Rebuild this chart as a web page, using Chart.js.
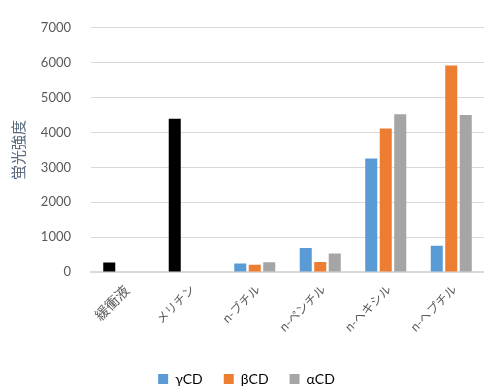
<!DOCTYPE html>
<html>
<head>
<meta charset="utf-8">
<script src="https://cdn.jsdelivr.net/npm/chart.js@4/dist/chart.umd.min.js"></script>
<style>
html,body{margin:0;padding:0;background:#fff;}
#wrap{width:484px;height:386px;}
</style>
</head>
<body>
<div id="wrap"><canvas id="c" width="484" height="386"></canvas></div>
<script>
const categories = ['緩衝液', 'メリチン', 'n-ブチル', 'n-ペンチル', 'n-ヘキシル', 'n-ヘプチル'];
const gammaCD = [270, 4390, 245, 690, 3250, 750];
const betaCD = [null, null, 207, 290, 4110, 5920];
const alphaCD = [null, null, 280, 530, 4520, 4500];
const yTicks = [0, 1000, 2000, 3000, 4000, 5000, 6000, 7000];
const seriesNames = ['γCD', 'βCD', 'αCD'];

const gammaColors = ['#000000', '#000000', '#5B9BD5', '#5B9BD5', '#5B9BD5', '#5B9BD5'];
const FONT = 'Lato, "Noto Sans CJK JP", sans-serif';
const JP = '"Noto Sans CJK JP", sans-serif';

new Chart(document.getElementById('c'), {
  type: 'bar',
  data: {
    labels: categories,
    datasets: [
      { label: seriesNames[0], data: gammaCD, backgroundColor: gammaColors },
      { label: seriesNames[1], data: betaCD, backgroundColor: '#ED7D31' },
      { label: seriesNames[2], data: alphaCD, backgroundColor: '#A5A5A5' }
    ]
  },
  options: {
    responsive: false,
    animation: false,
    layout: { padding: { top: 8, left: 9, right: 0, bottom: 0 } },
    datasets: { bar: { categoryPercentage: 0.664, barPercentage: 0.83 } },
    plugins: {
      legend: {
        position: 'bottom',
        maxHeight: 35,
        labels: {
          generateLabels: (chart) => seriesNames.map((n, i) => ({
            text: n,
            fillStyle: ['#5B9BD5', '#ED7D31', '#A5A5A5'][i],
            strokeStyle: 'rgba(0,0,0,0)',
            lineWidth: 0,
            datasetIndex: i
          })),
          boxWidth: 10, boxHeight: 10, padding: 21,
          color: '#595959',
          font: { family: FONT, size: 14 }
        }
      },
      tooltip: { enabled: false }
    },
    scales: {
      x: {
        grid: { display: false, drawTicks: false },
        border: { display: true, color: '#D9D9D9', width: 2 },
        ticks: {
          maxRotation: 45, minRotation: 45,
          color: '#595959', padding: 10,
          labelOffset: (ctx) => ctx.index === 0 ? 6 : 3,
          font: (ctx) => ({ family: JP, size: ctx.index === 0 ? 14 : 12 })
        },
        afterFit: (s) => { s.height = 79; }
      },
      y: {
        min: 0, max: 7000,
        afterBuildTicks: (s) => { s.ticks = yTicks.map(v => ({ value: v })); },
        grid: { color: '#D9D9D9', lineWidth: 1, drawTicks: false },
        border: { display: false },
        ticks: {
          color: '#595959', padding: 20,
          font: { family: FONT, size: 13 },
          callback: (v) => String(v)
        },
        title: {
          display: true, text: '蛍光強度', color: '#5B6B7F',
          font: { family: JP, size: 15 },
          padding: { top: 0, bottom: 0 }
        },
        afterFit: (s) => { s.width = 82; }
      }
    }
  }
});
</script>
</body>
</html>
